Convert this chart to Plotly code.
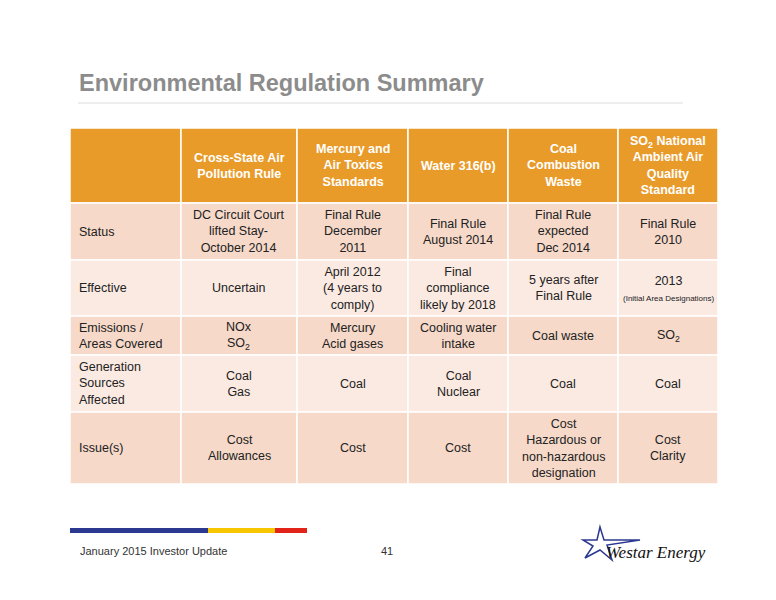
import plotly.graph_objects as go

# table content
col_heads = ["", "Cross-State Air<br>Pollution Rule", "Mercury and<br>Air Toxics<br>Standards", "Water 316(b)",
             "Coal<br>Combustion<br>Waste", "SO<sub>2</sub> National<br>Ambient Air<br>Quality<br>Standard"]
row_labels = ["Status", "Effective", "Emissions /<br>Areas Covered", "Generation<br>Sources<br>Affected", "Issue(s)"]
cells = [
    ["DC Circuit Court<br>lifted Stay-<br>October 2014", "Final Rule<br>December<br>2011", "Final Rule<br>August 2014",
     "Final Rule<br>expected<br>Dec 2014", "Final Rule<br>2010"],
    ["Uncertain", "April 2012<br>(4 years to<br>comply)", "Final<br>compliance<br>likely by 2018",
     "5 years after<br>Final Rule", "2013<br><span style='font-size:8px'>(Initial Area Designations)</span>"],
    ["NOx<br>SO<sub>2</sub>", "Mercury<br>Acid gases", "Cooling water<br>intake", "Coal waste", "SO<sub>2</sub>"],
    ["Coal<br>Gas", "Coal", "Coal<br>Nuclear", "Coal", "Coal"],
    ["Cost<br>Allowances", "Cost", "Cost", "Cost<br>Hazardous or<br>non-hazardous<br>designation", "Cost<br>Clarity"],
]

# layout geometry in pixels (window coordinates)
col_x = [70, 181, 297, 408, 508, 618, 718]
row_y = [128, 203, 260, 316, 355, 412, 484]
HEAD = "#E99B2A"
ROW_FILL = ["#F6D9C9", "#FBEAE2", "#F6D9C9", "#FBEAE2", "#F6D9C9"]
FONT = "Liberation Sans, Arial, sans-serif"
FS = 12.5

shapes, annots = [], []
for r in range(len(row_y) - 1):
    fill = HEAD if r == 0 else ROW_FILL[r - 1]
    for c in range(len(col_x) - 1):
        shapes.append(dict(type="rect", x0=col_x[c], x1=col_x[c + 1], y0=row_y[r], y1=row_y[r + 1],
                           fillcolor=fill, line=dict(color="white", width=1.5), layer="below"))
        cy = (row_y[r] + row_y[r + 1]) / 2
        if r == 0:
            txt = col_heads[c]
            if txt:
                annots.append(dict(x=(col_x[c] + col_x[c + 1]) / 2, y=cy, text="<b>" + txt + "</b>",
                                   font=dict(color="white", size=FS, family=FONT)))
        elif c == 0:
            annots.append(dict(x=col_x[0] + 7, y=cy, text=row_labels[r - 1], xanchor="left", align="left",
                               font=dict(color="#222", size=FS, family=FONT)))
        else:
            annots.append(dict(x=(col_x[c] + col_x[c + 1]) / 2, y=cy, text=cells[r - 1][c - 1],
                               font=dict(color="#222", size=FS, family=FONT)))

# title and rule
annots.append(dict(x=77, y=83, text="<b>Environmental Regulation Summary</b>", xanchor="left",
                   font=dict(color="#8C8C8C", size=23.5, family=FONT)))
shapes.append(dict(type="line", x0=78, x1=683, y0=103, y1=103, line=dict(color="#DDDDDD", width=1)))

# footer bar
for x0, x1, colr in [(70, 208, "#2B3990"), (208, 275, "#F7C600"), (275, 307, "#E2231A")]:
    shapes.append(dict(type="rect", x0=x0, x1=x1, y0=528, y1=533, fillcolor=colr, line=dict(width=0)))
annots.append(dict(x=78, y=551, text="January 2015 Investor Update", xanchor="left",
                   font=dict(color="#333", size=11, family=FONT)))
annots.append(dict(x=387, y=551, text="41", font=dict(color="#333", size=11, family=FONT)))

# logo
shapes.append(dict(type="path",
                   path="M 600 527 L 604 540 L 640 540 L 607 545 L 612 560 L 600 550 L 585 558 L 593 546 L 583 540 L 597 540 Z",
                   line=dict(color="#2B3990", width=1.5), fillcolor="rgba(0,0,0,0)"))
annots.append(dict(x=604, y=552, text="<i>Westar Energy</i>", xanchor="left",
                   font=dict(color="#111", size=17, family="Liberation Serif, serif")))
for a in annots:
    a.setdefault("showarrow", False)
    a.setdefault("xref", "x")
    a.setdefault("yref", "y")

fig = go.Figure()
# ranges offset by the page's 8px body margin so pixel coordinates match the window
fig.update_layout(width=776, height=600, margin=dict(l=0, r=0, t=0, b=0),
                  paper_bgcolor="white", plot_bgcolor="white", shapes=shapes, annotations=annots,
                  xaxis=dict(range=[8, 784], visible=False, fixedrange=True),
                  yaxis=dict(range=[608, 8], visible=False, fixedrange=True), showlegend=False)
fig.write_html("out.html")
